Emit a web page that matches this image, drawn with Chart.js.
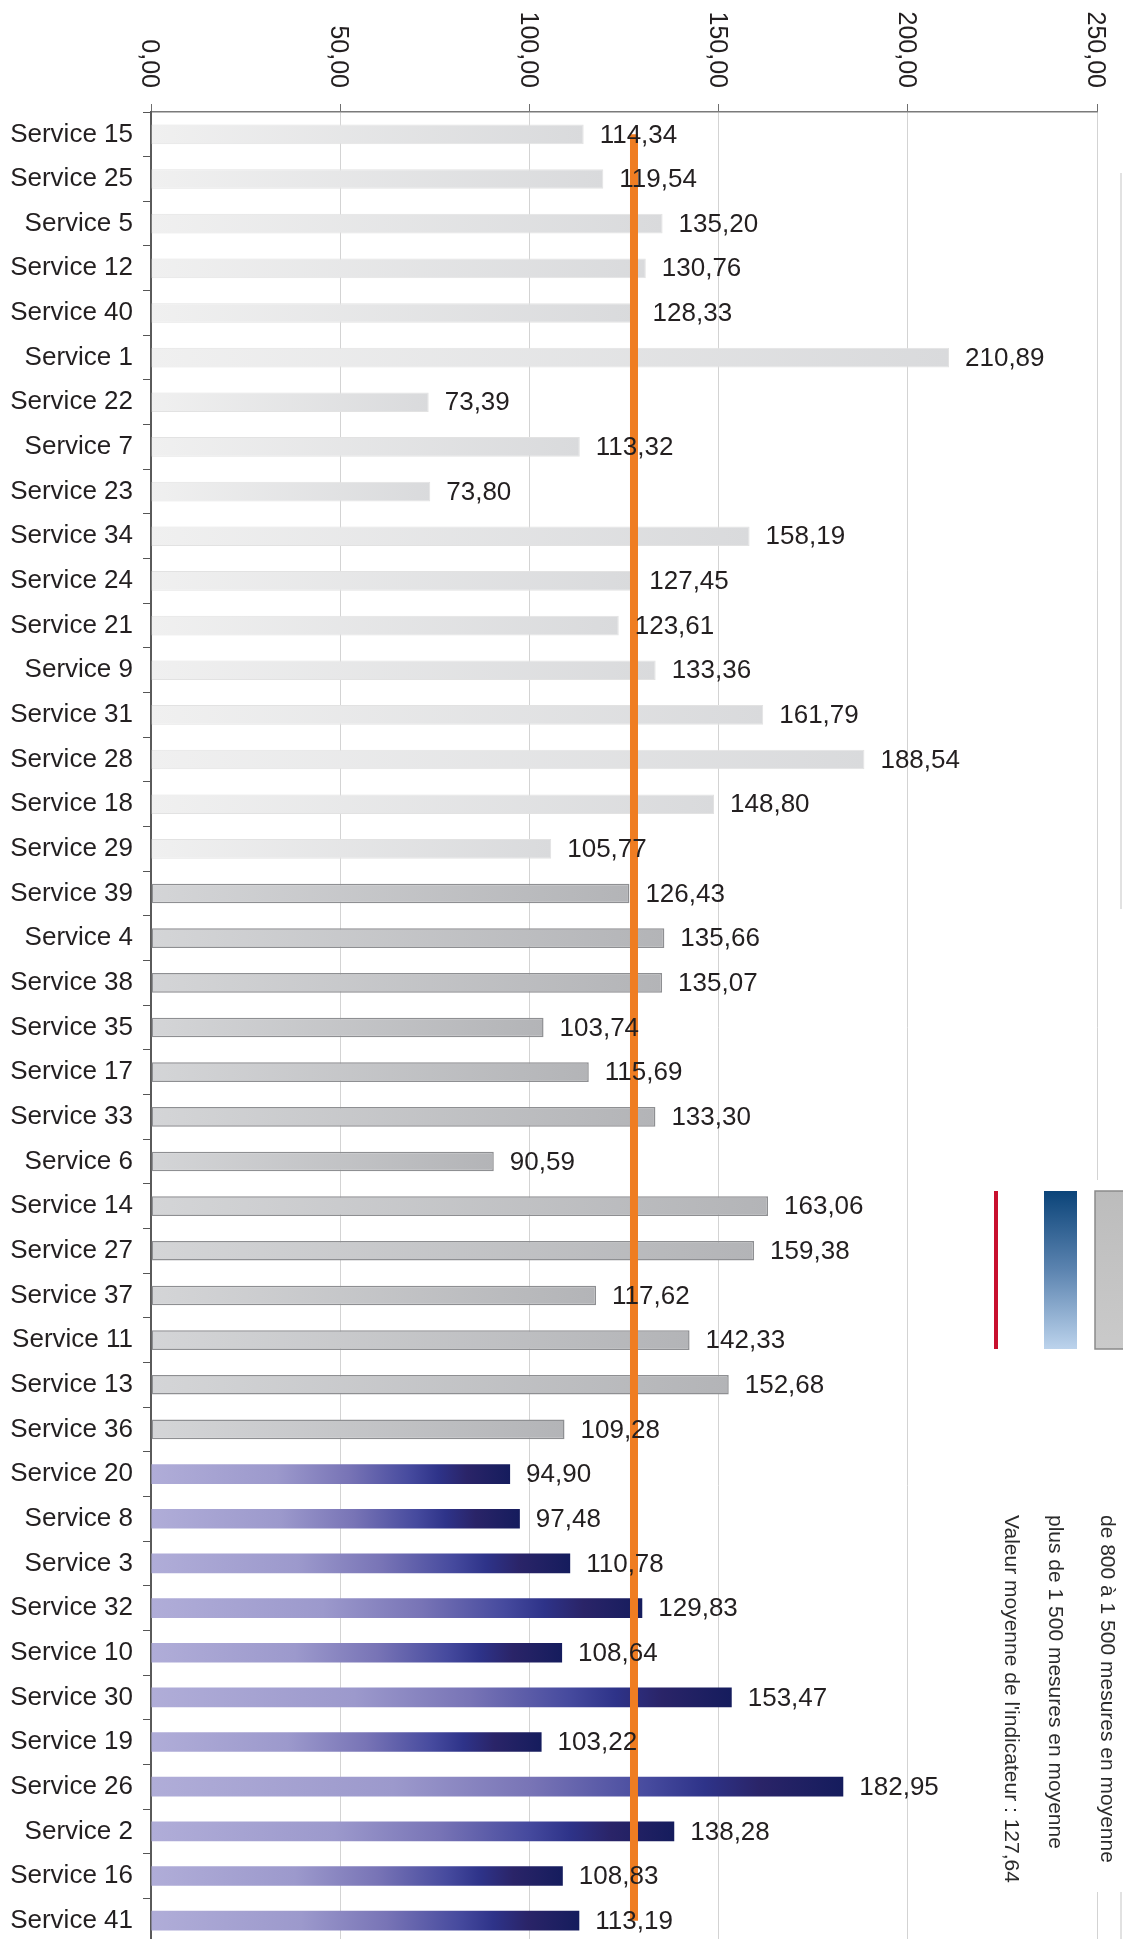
<!DOCTYPE html>
<html>
<head>
<meta charset="utf-8">
<script src="https://cdn.jsdelivr.net/npm/chart.js@4.4.1/dist/chart.umd.min.js"></script>
<style>
  html, body { margin: 0; padding: 0; background: #fff; overflow: hidden; }
  #wrap { width: 1123px; height: 1939px; overflow: hidden; }
  canvas { display: block; }
</style>
</head>
<body>
<div id="wrap"><canvas id="chart" width="1123" height="1943"></canvas></div>
<script>
// services with fewer measures (no legend entry)
var lightServices = ['Service 15', 'Service 25', 'Service 5', 'Service 12', 'Service 40', 'Service 1',
  'Service 22', 'Service 7', 'Service 23', 'Service 34', 'Service 24', 'Service 21', 'Service 9',
  'Service 31', 'Service 28', 'Service 18', 'Service 29'];
var lightValues = [114.34, 119.54, 135.20, 130.76, 128.33, 210.89, 73.39, 113.32, 73.80, 158.19,
  127.45, 123.61, 133.36, 161.79, 188.54, 148.80, 105.77];

// de 800 à 1 500 mesures
var grayServices = ['Service 39', 'Service 4', 'Service 38', 'Service 35', 'Service 17', 'Service 33',
  'Service 6', 'Service 14', 'Service 27', 'Service 37', 'Service 11', 'Service 13', 'Service 36'];
var grayValues = [126.43, 135.66, 135.07, 103.74, 115.69, 133.30, 90.59, 163.06, 159.38, 117.62,
  142.33, 152.68, 109.28];

// plus de 1 500 mesures
var blueServices = ['Service 20', 'Service 8', 'Service 3', 'Service 32', 'Service 10', 'Service 30',
  'Service 19', 'Service 26', 'Service 2', 'Service 16', 'Service 41'];
var blueValues = [94.90, 97.48, 110.78, 129.83, 108.64, 153.47, 103.22, 182.95, 138.28, 108.83, 113.19];

var meanValue = 127.64;
var xTicks = [0, 50, 100, 150, 200, 250];
var xTickLabels = ['0,00', '50,00', '100,00', '150,00', '200,00', '250,00'];
var legendLabels = ['de 800 à 1 500 mesures en moyenne', 'plus de 1 500 mesures en moyenne',
  "Valeur moyenne de l'indicateur : 127,64"];

var FONT = '"Liberation Sans", Arial, sans-serif';
var allServices = lightServices.concat(grayServices, blueServices);

function fmt(v) { return v.toFixed(2).replace('.', ','); }

function toPoints(names, vals) {
  return names.map(function (n, i) { return { x: vals[i], y: n }; });
}

// gradient along each bar, from the axis to the bar end
function barGradient(stops) {
  return function (c) {
    var chart = c.chart;
    if (c.type !== 'data' || !chart.chartArea) return stops[stops.length - 1][1];
    var sx = chart.scales.x;
    var g = chart.ctx.createLinearGradient(sx.getPixelForValue(0), 0, sx.getPixelForValue(c.raw.x), 0);
    stops.forEach(function (s) { g.addColorStop(s[0], s[1]); });
    return g;
  };
}

var decorations = {
  id: 'decorations',
  afterDatasetsDraw: function (chart) {
    var ctx = chart.ctx;
    ctx.save();
    ctx.font = '26px ' + FONT;
    ctx.fillStyle = '#231f20';
    ctx.textAlign = 'left';
    ctx.textBaseline = 'middle';
    [0, 1, 2].forEach(function (di) {
      var ds = chart.data.datasets[di];
      chart.getDatasetMeta(di).data.forEach(function (bar, i) {
        ctx.fillText(fmt(ds.data[i].x), bar.x + 16, bar.y + 1);
      });
    });
    ctx.restore();
  },
  afterDraw: function (chart) {
    var ctx = chart.ctx;
    var sx = chart.scales.x;
    ctx.save();

    // x tick labels, reading top to bottom
    ctx.font = '25px ' + FONT;
    ctx.fillStyle = '#231f20';
    ctx.textAlign = 'right';
    ctx.textBaseline = 'middle';
    xTicks.forEach(function (v, i) {
      ctx.save();
      ctx.translate(sx.getPixelForValue(v) - 2, 88);
      ctx.rotate(Math.PI / 2);
      ctx.fillText(xTickLabels[i], 0, 0);
      ctx.restore();
    });

    // legend box
    ctx.fillStyle = '#ffffff';
    ctx.fillRect(985, 1180, 138, 712);
    ctx.strokeStyle = '#d9d9d9';
    ctx.lineWidth = 1.5;
    ctx.beginPath();
    ctx.moveTo(1121, 173); ctx.lineTo(1121, 909);
    ctx.moveTo(1121, 1892); ctx.lineTo(1121, 1943);
    ctx.stroke();

    var g1 = ctx.createLinearGradient(0, 1191, 0, 1349);
    g1.addColorStop(0, '#bcbcbc');
    g1.addColorStop(1, '#cacaca');
    ctx.fillStyle = g1;
    ctx.fillRect(1095, 1191, 40, 158);
    ctx.strokeStyle = '#8a8a8a';
    ctx.lineWidth = 1.5;
    ctx.strokeRect(1095, 1191, 40, 158);

    var g2 = ctx.createLinearGradient(0, 1191, 0, 1349);
    g2.addColorStop(0, '#0b4479');
    g2.addColorStop(0.5, '#5c84b0');
    g2.addColorStop(1, '#bcd3ec');
    ctx.fillStyle = g2;
    ctx.fillRect(1044, 1191, 33, 158);

    ctx.fillStyle = '#c8102e';
    ctx.fillRect(994, 1191, 4, 158);

    ctx.font = '21px ' + FONT;
    ctx.fillStyle = '#2b2b2b';
    ctx.textAlign = 'left';
    ctx.textBaseline = 'middle';
    [1107, 1055, 1011].forEach(function (x, i) {
      ctx.save();
      ctx.translate(x, 1515);
      ctx.rotate(Math.PI / 2);
      ctx.fillText(legendLabels[i], 0, 0);
      ctx.restore();
    });
    ctx.restore();
  }
};

var chart = new Chart(document.getElementById('chart'), {
  type: 'bar',
  data: {
    labels: allServices,
    datasets: [
      {
        data: toPoints(lightServices, lightValues),
        backgroundColor: barGradient([[0, '#f0f0f0'], [1, '#d9dadc']]),
        borderColor: '#e2e2e2', borderWidth: 1, borderSkipped: false, order: 1
      }, {
        data: toPoints(grayServices, grayValues),
        backgroundColor: barGradient([[0, '#d4d5d7'], [1, '#b3b4b7']]),
        borderColor: '#8e8f92', borderWidth: 1.5, borderSkipped: false, order: 1
      }, {
        data: toPoints(blueServices, blueValues),
        backgroundColor: barGradient([[0, '#b0add8'], [0.35, '#9c99cc'], [0.55, '#7874b6'],
          [0.72, '#464a9e'], [0.8, '#2e3389'], [0.88, '#2a2468'], [1, '#151c5d']]),
        borderWidth: 0, order: 1
      }, {
        type: 'line',
        data: [{ x: meanValue, y: allServices[0] }, { x: meanValue, y: allServices[allServices.length - 1] }],
        borderColor: '#ef7d22', borderWidth: 8, borderCapStyle: 'butt',
        pointRadius: 0, order: 0
      }
    ]
  },
  options: {
    responsive: false, animation: false,
    indexAxis: 'y',
    grouped: false,
    categoryPercentage: 1, barPercentage: 0.44,
    layout: { padding: { top: 0, right: 26, bottom: 0, left: 0 } },
    scales: {
      x: {
        position: 'top', min: 0, max: 250,
        afterFit: function (s) { s.height = 112; s.paddingLeft = 0; s.paddingRight = 0; },
        ticks: { display: false, stepSize: 50 },
        grid: { color: '#d3d3d3', lineWidth: 1, tickColor: '#6f6f6f', tickLength: 8 },
        border: { color: '#7a7a7a', width: 1.5 }
      },
      y: {
        afterFit: function (s) { s.width = 151; s.paddingTop = 0; s.paddingBottom = 0; },
        ticks: { autoSkip: false, padding: 10, color: '#231f20', font: { size: 26, family: FONT } },
        grid: { drawOnChartArea: false, offset: true, tickLength: 8, tickColor: '#555555' },
        border: { color: '#5a5a5a', width: 2 }
      }
    },
    plugins: { legend: { display: false }, tooltip: { enabled: false } }
  },
  plugins: [decorations]
});
</script>
</body>
</html>
